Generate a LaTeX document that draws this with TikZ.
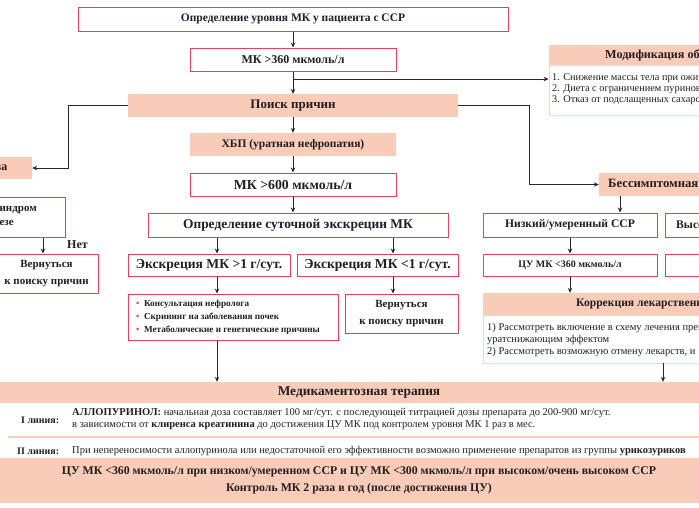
\documentclass[tikz,border=0pt]{standalone}
\usepackage{fontspec}
\setmainfont{Liberation Serif}
\usetikzlibrary{arrows.meta}
\definecolor{bred}{RGB}{222,70,88}
\definecolor{peach}{RGB}{248,204,184}
\definecolor{lpeach}{RGB}{246,212,198}
\definecolor{txt}{RGB}{35,31,32}
\definecolor{lnc}{RGB}{40,40,40}
\newcommand\fs[2]{\fontsize{#1}{#2}\selectfont}
\newcommand\mybox[7]{\node[#1, minimum width={#5-#3}, minimum height={#6-#4}] (#2) at ({(#3+#5)/2},{(#4+#6)/2}) {#7};}
\tikzset{
 rbox/.style={draw=bred, line width=1pt, fill=white, inner sep=0pt, text=txt, align=center},
 pbox/.style={fill=peach, inner sep=0pt, text=txt, align=center},
 lbox/.style={draw=lpeach, line width=0.8pt, fill=white, inner sep=0pt},
 arr/.style={draw=lnc, line width=0.8pt, -{Stealth[length=5pt,width=4.5pt]}},
 tx/.style={inner sep=0pt, text=txt},
 bul/.style={tx, anchor=west, font=\fs{9.2}{11}\bfseries},
 lst/.style={tx, anchor=west, font=\fs{10.3}{12}},
 kor/.style={tx, anchor=west, font=\fs{10.5}{12}},
}
\begin{document}
\begin{tikzpicture}[x=1pt,y=-1pt]
\useasboundingbox (0,0) rectangle (699,507);
\clip (0,0) rectangle (699,507);
\fill[white] (0,0) rectangle (699,507);
% center column
\mybox{rbox,font=\fs{11.5}{13}\bfseries}{n1}{78}{7}{508}{31}{Определение уровня МК у пациента с ССР}
\mybox{rbox,font=\fs{12}{14}\bfseries}{n2}{190}{48}{396}{71}{МК >360 мкмоль/л}
\mybox{pbox,font=\fs{13}{15}\bfseries}{n3}{128}{94}{458}{117}{Поиск причин}
\mybox{pbox,font=\fs{11.5}{13}\bfseries}{n4}{190}{133}{396}{156}{ХБП (уратная нефропатия)}
\mybox{rbox,font=\fs{13.8}{15}\bfseries}{n5}{190}{173}{396}{196}{МК >600 мкмоль/л}
\mybox{rbox,font=\fs{13.4}{15}\bfseries}{n6}{148}{213}{448}{237}{Определение суточной экскреции МК}
\mybox{rbox,font=\fs{13.6}{15}\bfseries}{n7}{128}{254}{290}{276}{Экскреция МК >1 г/сут.}
\mybox{rbox,font=\fs{13.6}{15}\bfseries}{n8}{297}{254}{458}{276}{Экскреция МК <1 г/сут.}
\mybox{rbox}{n9}{128}{294}{338}{340}{}
\node[bul] (n9a) at (136,304) {\textcolor{bred}{•}\enspace Консультация нефролога};
\node[bul] (n9b) at (136,317) {\textcolor{bred}{•}\enspace Скрининг на заболевания почек};
\node[bul] (n9c) at (136,330) {\textcolor{bred}{•}\enspace Метаболические и генетические причины};
\mybox{rbox,font=\fs{11}{17}\bfseries}{n10}{345}{294}{458}{333}{Вернуться\\к поиску причин}
% left column
\mybox{pbox}{l1}{-20}{157}{32}{179}{}
\node[tx, anchor=east, font=\fs{12}{14}\bfseries] (l1t) at (7.5,168) {ва};
\mybox{rbox}{l2}{-20}{197}{65}{237}{}
\node[tx, anchor=east, font=\fs{11}{13}\bfseries] (l2a) at (37,210) {синдром};
\node[tx, anchor=east, font=\fs{11}{13}\bfseries] (l2b) at (14,223) {езе};
\mybox{rbox,font=\fs{11}{17}\bfseries}{l3}{-5}{254}{98}{293}{Вернуться\\к поиску причин}
\node[tx, font=\fs{12}{14}\bfseries] (net) at (77.5,245) {Нет};
% right column
\mybox{pbox}{m1}{549}{45}{760}{65}{}
\node[tx, anchor=west, font=\fs{12.2}{14}\bfseries] (m1t) at (605,55) {Модификация образа};
\mybox{lbox}{m2}{549}{65}{760}{115}{}
\node[lst] (m2a) at (552,78) {1. Снижение массы тела при ожирении};
\node[lst] (m2b) at (552,89) {2. Диета с ограничением пуринов};
\node[lst] (m2c) at (552,100) {3. Отказ от подслащенных сахаром};
\mybox{pbox}{b1}{599}{173}{760}{196}{}
\node[tx, anchor=west, font=\fs{12.7}{14}\bfseries] (b1t) at (608,184.5) {Бессимптомная гиперурикемия};
\mybox{rbox,font=\fs{11.6}{13}\bfseries}{b2}{483}{213}{657}{237}{Низкий/умеренный ССР}
\mybox{rbox}{b3}{665}{213}{760}{237}{}
\node[tx, anchor=west, font=\fs{11.6}{13}\bfseries] (b3t) at (676,225) {Высокий};
\mybox{rbox,font=\fs{10}{12}\bfseries}{b4}{483}{254}{657}{276}{ЦУ МК <360 мкмоль/л}
\mybox{rbox}{b5}{665}{254}{760}{276}{}
\mybox{pbox}{k1}{483}{293}{760}{315}{}
\node[tx, anchor=west, font=\fs{11.6}{13}\bfseries] (k1t) at (576,304) {Коррекция лекарственной};
\mybox{lbox}{k2}{483}{315}{760}{363}{}
\node[kor] (k2a) at (487,328) {1) Рассмотреть включение в схему лечения препаратов с};
\node[kor] (k2b) at (487,340) {уратснижающим эффектом};
\node[kor] (k2c) at (487,352) {2) Рассмотреть возможную отмену лекарств, и};
% medication
\mybox{pbox,font=\fs{13.4}{15}\bfseries}{d1}{-10}{382}{728}{403}{Медикаментозная терапия}
\node[tx, anchor=west, font=\fs{10}{12}\bfseries] (d1a) at (21,420) {I линия:};
\node[tx, anchor=west, font=\fs{10.5}{12}] (d1b) at (72,413) {\textbf{АЛЛОПУРИНОЛ:} начальная доза составляет 100 мг/сут. с последующей титрацией дозы препарата до 200-900 мг/сут.};
\node[tx, anchor=west, font=\fs{10.5}{12}] (d1c) at (72,425) {в зависимости от \textbf{клиренса креатинина} до достижения ЦУ МК под контролем уровня МК 1 раз в мес.};
\draw[peach, line width=1.8pt] (8,437) -- (699,437);
\node[tx, anchor=west, font=\fs{10}{12}\bfseries] (d2a) at (17,451) {II линия:};
\node[tx, anchor=west, font=\fs{10.5}{12}] (d2b) at (72,451) {При непереносимости аллопуринола или недостаточной его эффективности возможно применение препаратов из группы \textbf{урикозуриков}};
\mybox{pbox,font=\fs{11.8}{17}\bfseries}{d3}{-10}{458}{728}{503}{ЦУ МК <360 мкмоль/л при низком/умеренном ССР и ЦУ МК <300 мкмоль/л при высоком/очень высоком ССР\\Контроль МК 2 раза в год (после достижения ЦУ)}
% connectors
\coordinate (j1) at (293,79);
\coordinate (a0) at (293,0);
\coordinate (lk) at (68,0);
\coordinate (rk) at (529,0);
\coordinate (a1) at (217,0);
\coordinate (a2) at (393,0);
\coordinate (c1) at (620,0);
\coordinate (c2) at (43,0);
\coordinate (c3) at (663,0);
\draw[arr] (n1.south) -- (n2.north);
\draw[arr] (n2.south) -- (n3.north);
\draw[arr] (j1) -- (j1 -| m2.west);
\draw[arr] (n3.west) -- (n3.west -| lk) |- (l1.east);
\draw[arr] (n3.east) -- (n3.east -| rk) |- (b1.west);
\draw[arr] (n3.south) -- (n4.north);
\draw[arr] (n4.south) -- (n5.north);
\draw[arr] (n5.south -| a0) -- (n6.north -| a0);
\draw[arr] (n6.south -| a1) -- (n7.north -| a1);
\draw[arr] (n6.south -| a2) -- (n8.north -| a2);
\draw[arr] (n7.south -| a1) -- (n9.north -| a1);
\draw[arr] (n8.south -| a2) -- (n10.north -| a2);
\draw[arr] (n9.south -| a1) -- (d1.north -| a1);
\draw[arr] (l2.south -| c2) -- (l3.north -| c2);
\draw[arr] (b1.south -| c1) -- (b2.north -| c1);
\draw[arr] (b2.south) -- (b4.north);
\draw[arr] (b4.south) -- (b4.south |- k1.north);
\draw[arr] (k2.south -| c3) -- (d1.north -| c3);
\end{tikzpicture}
\end{document}
